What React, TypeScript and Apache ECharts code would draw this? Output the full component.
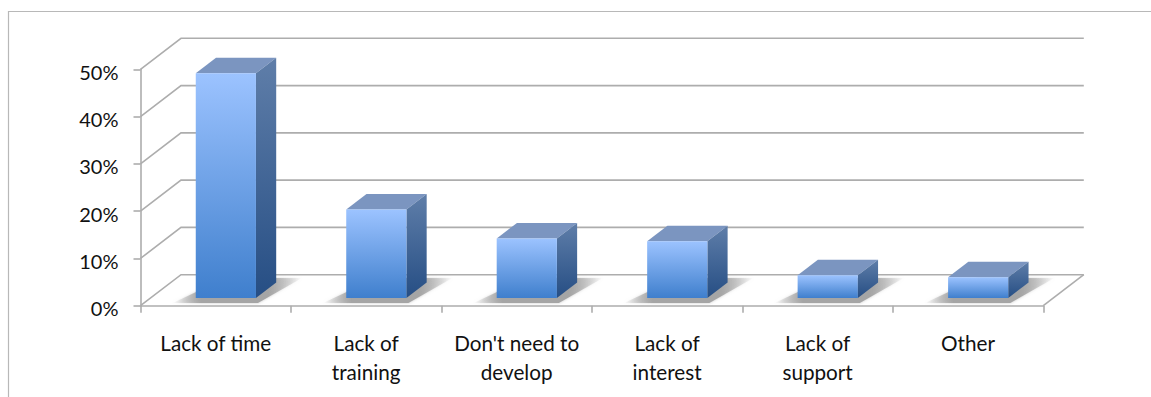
import React, { useEffect, useRef } from "react";
import * as echarts from "echarts";

const categories = [
  "Lack of time",
  "Lack of\ntraining",
  "Don't need to\ndevelop",
  "Lack of\ninterest",
  "Lack of\nsupport",
  "Other",
];
const shares = [47.5, 18.7, 12.6, 12.0, 4.8, 4.4];
const wallTicks = [0, 10, 20, 30, 40, 50];

const FONT = "Lato";
const LINE = "#adadad";
// Oblique projection of the 3D box: how far the back wall sits from the front plane.
const DEPTH_X = 40.5;
const DEPTH_Y = -31;
const BAR_FRONT = 0.25;
const BAR_BACK = 0.75;
const BAR_WIDTH = 0.4;

const vertical = (top: string, bottom: string) =>
  new echarts.graphic.LinearGradient(0, 0, 0, 1, [
    { offset: 0, color: top },
    { offset: 1, color: bottom },
  ]);

const wallItem = (params: any, api: any) => {
  const rect = params.coordSys;
  const y = api.coord([0, api.value(1)])[1];
  const x0 = rect.x;
  const x1 = rect.x + rect.width;
  const lineStyle = { stroke: LINE, lineWidth: 1.6, fill: "none" };
  const children: any[] = [
    {
      type: "polyline",
      shape: { points: [[x0, y], [x0 + DEPTH_X, y + DEPTH_Y], [x1 + DEPTH_X, y + DEPTH_Y]] },
      style: lineStyle,
    },
  ];
  if (api.value(1) === 0) {
    children.push({
      type: "line",
      shape: { x1: x1, y1: y, x2: x1 + DEPTH_X, y2: y + DEPTH_Y },
      style: lineStyle,
    });
  }
  return { type: "group", children };
};

const barBox = (api: any) => {
  const [cx, top] = api.coord([api.value(0), api.value(1)]);
  const [, zero] = api.coord([api.value(0), 0]);
  const width = api.size([1, 0])[0] * BAR_WIDTH;
  const x0 = cx - width / 2 + DEPTH_X * BAR_FRONT;
  const x1 = x0 + width;
  const yBase = zero + DEPTH_Y * BAR_FRONT;
  const yTop = top + DEPTH_Y * BAR_FRONT;
  const dx = DEPTH_X * (BAR_BACK - BAR_FRONT);
  const dy = DEPTH_Y * (BAR_BACK - BAR_FRONT);
  return { x0, x1, yBase, yTop, dx, dy };
};

const shadowItem = (_: any, api: any) => {
  const { x0, x1, yBase } = barBox(api);
  return {
    type: "polygon",
    shape: {
      points: [
        [x0 - 23, yBase + 5],
        [x1 + 2, yBase + 5],
        [x1 + 46, yBase - 20],
        [x0 + 30, yBase - 20],
      ],
    },
    style: {
      fill: new echarts.graphic.LinearGradient(0, 0, 1, 0, [
        { offset: 0, color: "rgba(165,165,165,0)" },
        { offset: 0.22, color: "rgba(165,165,165,1)" },
        { offset: 0.74, color: "rgba(165,165,165,1)" },
        { offset: 1, color: "rgba(165,165,165,0)" },
      ]),
      shadowBlur: 3,
      shadowColor: "rgba(165,165,165,0.6)",
    },
  };
};

const barItem = (_: any, api: any) => {
  const { x0, x1, yBase, yTop, dx, dy } = barBox(api);
  return {
    type: "group",
    children: [
      {
        type: "polygon",
        shape: { points: [[x0, yTop], [x1, yTop], [x1 + dx, yTop + dy], [x0 + dx, yTop + dy]] },
        style: { fill: "#7b95c0" },
      },
      {
        type: "polygon",
        shape: { points: [[x1, yTop], [x1 + dx, yTop + dy], [x1 + dx, yBase + dy], [x1, yBase]] },
        style: { fill: vertical("#5f7ea9", "#264e84") },
      },
      {
        type: "rect",
        shape: { x: x0, y: yTop, width: x1 - x0, height: yBase - yTop },
        style: { fill: vertical("#9cc3ff", "#3f7fcd") },
      },
    ],
  };
};

export default function App() {
  const ref = useRef<HTMLDivElement>(null);

  useEffect(() => {
    const chart = echarts.init(ref.current!, null, { renderer: "svg" });
    const barData = categories.map((_, i) => [i, shares[i]]);
    chart.setOption({
      animation: false,
      backgroundColor: "#ffffff",
      grid: { left: 140.5, right: 107.7, top: 69.3, bottom: 91.3 },
      xAxis: {
        type: "category",
        data: categories,
        axisLine: { lineStyle: { color: LINE, width: 1.6 } },
        axisTick: { show: true, length: 7, lineStyle: { color: LINE, width: 1.6 } },
        axisLabel: {
          interval: 0,
          fontFamily: FONT,
          fontSize: 20.7,
          lineHeight: 29,
          color: "#111111",
          margin: 23,
        },
      },
      yAxis: {
        type: "value",
        min: 0,
        max: 50,
        interval: 10,
        splitLine: { show: false },
        axisLine: { show: true, lineStyle: { color: LINE, width: 1.6 } },
        axisTick: { show: true, length: 7, lineStyle: { color: LINE, width: 1.6 } },
        axisLabel: {
          formatter: "{value}%",
          fontFamily: FONT,
          fontSize: 20,
          color: "#111111",
          margin: 22,
          lineHeight: 5,
          verticalAlign: "top",
        },
      },
      graphic: [
        {
          type: "polyline",
          silent: true,
          shape: { points: [[8.5, 397], [8.5, 11.5], [1151, 11.5]] },
          style: { stroke: "#b8b8b8", lineWidth: 1.2, fill: "none" },
        },
      ],
      series: [
        {
          type: "custom",
          coordinateSystem: "cartesian2d",
          renderItem: wallItem,
          encode: { x: 0, y: 1 },
          data: wallTicks.map((t) => [0, t]),
          silent: true,
        },
        {
          type: "custom",
          coordinateSystem: "cartesian2d",
          renderItem: shadowItem,
          encode: { x: 0, y: 1 },
          data: barData,
          silent: true,
        },
        {
          type: "custom",
          coordinateSystem: "cartesian2d",
          renderItem: barItem,
          encode: { x: 0, y: 1 },
          data: barData,
        },
      ],
    });
    return () => chart.dispose();
  }, []);

  return (
    <div
      ref={ref}
      style={{ position: "fixed", left: 0, top: 0, width: 1151, height: 397, background: "#fff" }}
    />
  );
}
